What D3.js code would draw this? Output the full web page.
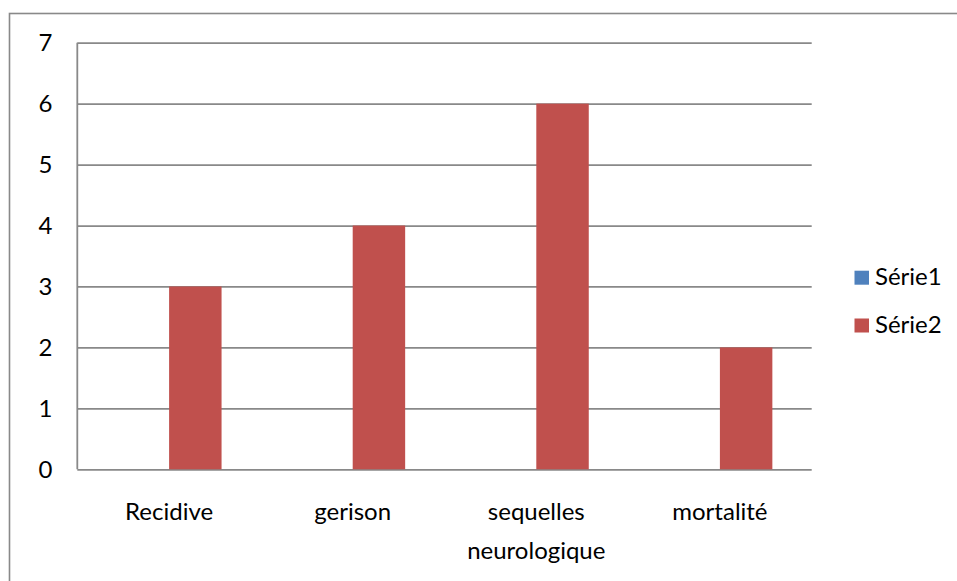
<!DOCTYPE html>
<html>
<head>
<meta charset="utf-8">
<script src="https://cdn.jsdelivr.net/npm/d3@7"></script>
<style>
  html, body { margin: 0; padding: 0; background: #fff; }
  svg { display: block; }
  text { font-family: Lato, "Noto Sans", sans-serif; fill: #000; }
</style>
</head>
<body>
<svg id="chart" width="957" height="581"></svg>
<script>
// Outcome categories and series values
const categories = ["Recidive", "gerison", "sequelles neurologique", "mortalité"];
const seriesNames = ["Série1", "Série2"];
const serie1 = [0, 0, 0, 0];
const serie2 = [3, 4, 6, 2];
const yTicks = [0, 1, 2, 3, 4, 5, 6, 7];
const colors = ["#4F81BD", "#C0504D"];

const W = 957, H = 581;
const plot = { left: 77.3, right: 811.7, top: 42.7, bottom: 469.3 };
const fontSize = 24;
const gridColor = "#898989";

const svg = d3.select("#chart");

// Chart frame
svg.append("rect")
  .attr("x", 9.5).attr("y", 13.5)
  .attr("width", W + 10).attr("height", H + 10)
  .attr("fill", "#fff")
  .attr("stroke", gridColor).attr("stroke-width", 1.6);

const x = d3.scaleBand().domain(categories).range([plot.left, plot.right]).padding(0);
const xs = d3.scaleBand().domain(seriesNames).range([0, x.bandwidth()])
  .paddingInner(0).paddingOuter(0.75);
const y = d3.scaleLinear().domain([0, 7]).range([plot.bottom, plot.top]);

// Horizontal gridlines
const yAxis = d3.axisLeft(y).tickValues(yTicks).tickSize(-(plot.right - plot.left))
  .tickPadding(25).tickFormat(d3.format("d"));
const gy = svg.append("g").attr("transform", `translate(${plot.left},0)`).call(yAxis);
gy.select(".domain").remove();
gy.selectAll(".tick line").attr("stroke", gridColor).attr("stroke-width", 1.8);
gy.selectAll(".tick text")
  .attr("font-size", fontSize)
  .attr("font-family", "Lato, 'Noto Sans', sans-serif")
  .attr("fill", "#000")
  .attr("dy", null)
  .attr("y", 8);

// Bars
const data = [serie1, serie2];
data.forEach((vals, si) => {
  svg.append("g").selectAll("rect")
    .data(vals)
    .join("rect")
    .attr("x", (d, i) => x(categories[i]) + xs(seriesNames[si]))
    .attr("y", d => y(d))
    .attr("width", xs.bandwidth())
    .attr("height", d => y(0) - y(d))
    .attr("fill", colors[si]);
});

// Value axis line
svg.append("line")
  .attr("x1", plot.left).attr("x2", plot.left)
  .attr("y1", plot.top).attr("y2", plot.bottom)
  .attr("stroke", gridColor).attr("stroke-width", 1.8);

// Category labels, wrapped to the band width
const labels = svg.append("g");
categories.forEach(cat => {
  const t = labels.append("text")
    .attr("text-anchor", "middle")
    .attr("font-size", fontSize)
    .attr("x", x(cat) + x.bandwidth() / 2)
    .attr("y", 520);
  const words = cat.split(" ");
  let line = [];
  let lineNo = 0;
  let tspan = t.append("tspan").attr("x", x(cat) + x.bandwidth() / 2).attr("dy", 0);
  words.forEach(w => {
    line.push(w);
    tspan.text(line.join(" "));
    if (tspan.node().getComputedTextLength() > x.bandwidth() - 20 && line.length > 1) {
      line.pop();
      tspan.text(line.join(" "));
      line = [w];
      lineNo++;
      tspan = t.append("tspan").attr("x", x(cat) + x.bandwidth() / 2)
        .attr("dy", 39).text(w);
    }
  });
});

// Legend
const legend = svg.append("g");
seriesNames.forEach((name, i) => {
  const yy = 270.7 + i * 47.8;
  legend.append("rect")
    .attr("x", 854.5).attr("y", yy)
    .attr("width", 14.5).attr("height", 14)
    .attr("fill", colors[i]);
  legend.append("text")
    .attr("x", 875).attr("y", yy + 14.2)
    .attr("font-size", fontSize)
    .text(name);
});
</script>
</body>
</html>
